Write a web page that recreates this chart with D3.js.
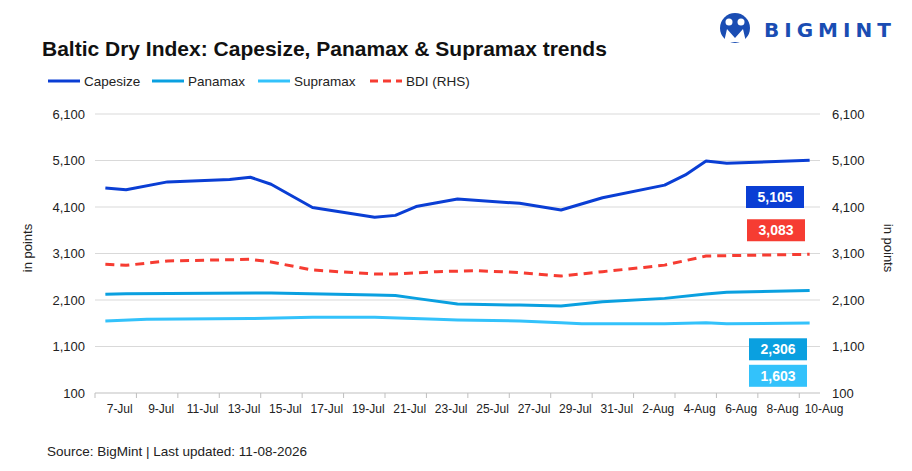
<!DOCTYPE html>
<html><head><meta charset="utf-8">
<script src="https://cdn.jsdelivr.net/npm/d3@7"></script>
<style>
body{margin:0;background:#fff;font-family:"Liberation Sans",Arial,sans-serif;}
</style></head>
<body><svg id="chart" width="912" height="471"></svg>
<script>
// day offsets from 6-Jul
const capeDays = [0, 1, 3, 6, 7, 8, 10, 13, 14, 15, 17, 20, 22, 24, 27, 28, 29, 30, 34];
const capeVals = [4510, 4470, 4640, 4690, 4740, 4590, 4090, 3880, 3920, 4110, 4270, 4180, 4035, 4300, 4570, 4790, 5090, 5040, 5105];
const bdiDays = [0, 1, 3, 7, 8, 10, 13, 14, 16, 18, 20, 22, 24, 26, 27, 29, 34];
const bdiVals = [2868, 2845, 2940, 2975, 2917, 2745, 2660, 2660, 2710, 2730, 2690, 2615, 2710, 2800, 2850, 3045, 3083];
const panaDays = [0, 1, 8, 13, 14, 15, 17, 20, 22, 24, 27, 29, 30, 34];
const panaVals = [2222, 2235, 2250, 2207, 2195, 2135, 2014, 1990, 1970, 2060, 2135, 2230, 2265, 2306];
const supraDays = [0, 2, 7, 10, 13, 16, 17, 20, 22, 23, 27, 29, 30, 34];
const supraVals = [1648, 1685, 1700, 1728, 1728, 1685, 1670, 1648, 1612, 1590, 1590, 1612, 1590, 1603];
const yTicks = [100, 1100, 2100, 3100, 4100, 5100, 6100];

const svg = d3.select('#chart');
const start = new Date(2026, 6, 6);
const day = d => d3.timeDay.offset(start, d);
const dayNoon = d => d3.timeHour.offset(day(d), 12);

const x = d3.scaleTime().domain([start, day(35)]).range([95, 820]);
const y = d3.scaleLinear().domain([100, 6100]).range([393, 114]);

// grid
svg.append('g').selectAll('line').data(yTicks.slice(1)).enter().append('line')
  .attr('x1', 95).attr('x2', 820)
  .attr('y1', d => y(d)).attr('y2', d => y(d))
  .attr('stroke', '#d9d9d9').attr('stroke-width', 1);

const fmt = d3.format(',');
svg.append('g').attr('transform', 'translate(95,0)')
  .call(d3.axisLeft(y).tickValues(yTicks).tickFormat(fmt).tickSize(0).tickPadding(10))
  .call(g => g.select('.domain').remove())
  .selectAll('text').style('font-size', '13px').attr('fill', '#222').style('font-family', 'Liberation Sans, Arial');
svg.append('g').attr('transform', 'translate(820,0)')
  .call(d3.axisRight(y).tickValues(yTicks).tickFormat(fmt).tickSize(0).tickPadding(12))
  .call(g => g.select('.domain').remove())
  .selectAll('text').style('font-size', '13px').attr('fill', '#222').style('font-family', 'Liberation Sans, Arial');

// x axis: ticks every 2 days, labels on odd dates
const xAxis = svg.append('g').attr('transform', 'translate(0,393)');
xAxis.append('line').attr('x1', 95).attr('x2', 820).attr('stroke', '#bfbfbf');
const tickDays = d3.range(0, 36, 2);
xAxis.selectAll('.tk').data(tickDays).enter().append('line')
  .attr('x1', d => x(day(d))).attr('x2', d => x(day(d))).attr('y1', 0).attr('y2', 5)
  .attr('stroke', '#bfbfbf');
const fmtDate = d3.timeFormat('%-d-%b');
xAxis.selectAll('text').data(d3.range(1, 36, 2)).enter().append('text')
  .attr('x', d => x(day(d)) + 4).attr('y', 20)
  .attr('text-anchor', 'middle').style('font-size', '12px').attr('fill', '#222')
  .text(d => fmtDate(day(d)));

const line = d3.line().x(d => x(dayNoon(d[0]))).y(d => y(d[1]));
function series(days, vals, color, dash) {
  svg.append('path').datum(days.map((d, i) => [d, vals[i]]))
    .attr('d', line).attr('fill', 'none').attr('stroke', color)
    .attr('stroke-width', 3).attr('stroke-dasharray', dash || null)
    .attr('stroke-linejoin', 'round');
}
series(supraDays, supraVals, '#33c2fb');
series(panaDays, panaVals, '#0aa0e0');
series(bdiDays, bdiVals, '#f63c32', '9,6');
series(capeDays, capeVals, '#0a3ed4');

// value badges
const badges = [
  { v: '5,105', c: '#0a3ed4', yv: 4315, x0: 746 },
  { v: '3,083', c: '#f63c32', yv: 3600, x0: 747 },
  { v: '2,306', c: '#0aa0e0', yv: 1040, x0: 749 },
  { v: '1,603', c: '#33c2fb', yv: 470, x0: 749 }
];
badges.forEach(b => {
  svg.append('rect').attr('x', b.x0).attr('y', y(b.yv) - 11).attr('width', 58).attr('height', 22).attr('fill', b.c);
  svg.append('text').attr('x', b.x0 + 29).attr('y', y(b.yv) + 5).attr('text-anchor', 'middle')
    .attr('fill', '#fff').style('font-weight', 'bold').style('font-size', '14px').text(b.v);
});

// axis titles
svg.append('text').attr('transform', 'translate(32,248) rotate(-90)').attr('text-anchor', 'middle')
  .style('font-size', '13px').attr('fill', '#222').text('in points');
svg.append('text').attr('transform', 'translate(884,248) rotate(90)').attr('text-anchor', 'middle')
  .style('font-size', '13px').attr('fill', '#222').text('in points');

// title, legend, source
svg.append('text').attr('x', 42).attr('y', 56).style('font-size', '21px').style('font-weight', 'bold')
  .attr('fill', '#111').text('Baltic Dry Index: Capesize, Panamax & Supramax trends');
const legend = [
  { n: 'Capesize', c: '#0a3ed4', x0: 48 },
  { n: 'Panamax', c: '#0aa0e0', x0: 152 },
  { n: 'Supramax', c: '#33c2fb', x0: 258 },
  { n: 'BDI (RHS)', c: '#f63c32', x0: 370, dash: '8,5' }
];
legend.forEach(l => {
  svg.append('line').attr('x1', l.x0).attr('x2', l.x0 + 32).attr('y1', 81).attr('y2', 81)
    .attr('stroke', l.c).attr('stroke-width', 3).attr('stroke-dasharray', l.dash || null);
  svg.append('text').attr('x', l.x0 + 36).attr('y', 86).style('font-size', '13.5px').attr('fill', '#222').text(l.n);
});
svg.append('text').attr('x', 47).attr('y', 456).style('font-size', '13.5px').attr('fill', '#222')
  .text('Source: BigMint | Last updated: 11-08-2026');

// logo
const logo = svg.append('g').attr('fill', '#1a4db3');
logo.append('circle').attr('cx', 735).attr('cy', 28).attr('r', 15);
logo.append('circle').attr('cx', 729).attr('cy', 22).attr('r', 3.5).attr('fill', '#fff');
logo.append('circle').attr('cx', 741).attr('cy', 22).attr('r', 3.5).attr('fill', '#fff');
logo.append('path').attr('d', 'M724,42 L727,29 L735,38 L743,29 L746,42 Z').attr('fill', '#fff');
logo.append('text').attr('x', 764).attr('y', 37).style('font-size', '20px').style('font-weight', 'bold')
  .style('letter-spacing', '5px').style('font-family', 'DejaVu Sans, sans-serif').text('BIGMINT');
</script></body></html>
